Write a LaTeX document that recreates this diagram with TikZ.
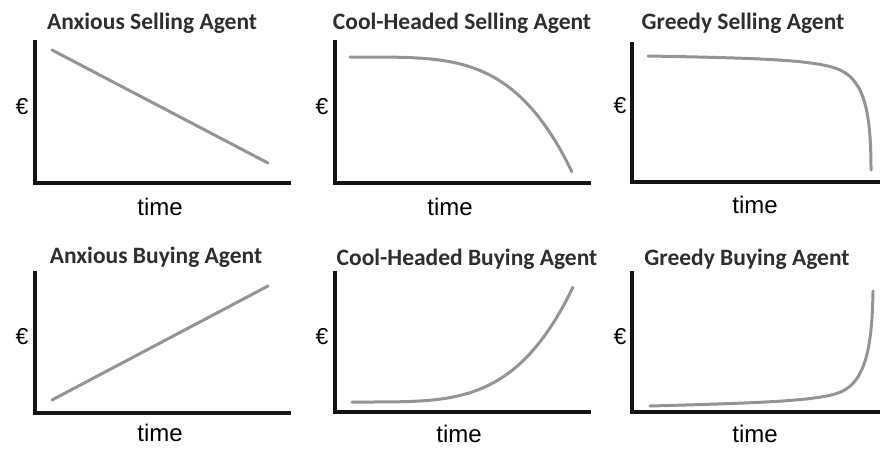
\documentclass[tikz,border=0pt]{standalone}
\usepackage{fontspec}
\setmainfont{Carlito}
\newfontfamily\arialf{Liberation Sans}
\begin{document}
\begin{tikzpicture}[x=1pt,y=-1pt,
  axis/.style={line width=3.5pt,color=black!92,line join=miter},
  curve/.style={line width=3pt,color=black!42,line cap=round},
  ttl/.style={font=\bfseries\fontsize{23.5}{28}\selectfont,text=black!82,anchor=base,inner sep=0pt},
  tlab/.style={font=\arialf\fontsize{24}{28}\selectfont,anchor=base,inner sep=0pt},
  eur/.style={font=\arialf\fontsize{23}{27}\selectfont,anchor=center,inner sep=0pt}]
\useasboundingbox (0,0) rectangle (880,448);

% ---------- top row: selling agents ----------
\node[ttl] (t1) at (152,29) {Anxious Selling Agent};
\draw[axis] (35,40) -- (35,183) -- (291,183);
\draw[curve] (52,50) -- (268,163);
\node[eur] (e1) at (22,107) {€};
\node[tlab] (x1) at (160,215) {time};

\node[ttl] (t2) at (462,29) {Cool-Headed Selling Agent};
\draw[axis] (335,40) -- (335,183) -- (591,183);
\draw[curve] plot[domain=0:1,samples=80,smooth] ({350+222*\x},{57+115*\x^4});
\node[eur] (e2) at (322,107) {€};
\node[tlab] (x2) at (450,215) {time};

\node[ttl] (t3) at (743,29) {Greedy Selling Agent};
\draw[axis] (632,42) -- (632,182) -- (882,182);
\draw[curve] (648,56) .. controls (760,58) and (810,60) .. (835,68)
  .. controls (864,77.3) and (871,110) .. (871,170);
\node[eur] (e3) at (620,106) {€};
\node[tlab] (x3) at (755,213) {time};

% ---------- bottom row: buying agents ----------
\node[ttl] (t4) at (156,263) {Anxious Buying Agent};
\draw[axis] (35,271) -- (35,413) -- (291,413);
\draw[curve] (52,400) -- (268,286);
\node[eur] (e4) at (22,337) {€};
\node[tlab] (x4) at (160,441) {time};

\node[ttl] (t5) at (467,265) {Cool-Headed Buying Agent};
\draw[axis] (335,271) -- (335,412) -- (591,412);
\draw[curve] plot[domain=0:1,samples=80,smooth] ({352+221*\x},{402-115*\x^4});
\node[eur] (e5) at (322,337) {€};
\node[tlab] (x5) at (459,442) {time};

\node[ttl] (t6) at (747,265) {Greedy Buying Agent};
\draw[axis] (632,271) -- (632,412) -- (882,412);
\draw[curve] (650,406) .. controls (760,403) and (810,401) .. (835,394)
  .. controls (865,386) and (872,350) .. (873,291);
\node[eur] (e6) at (620,337) {€};
\node[tlab] (x6) at (755,442) {time};
\end{tikzpicture}
\end{document}
